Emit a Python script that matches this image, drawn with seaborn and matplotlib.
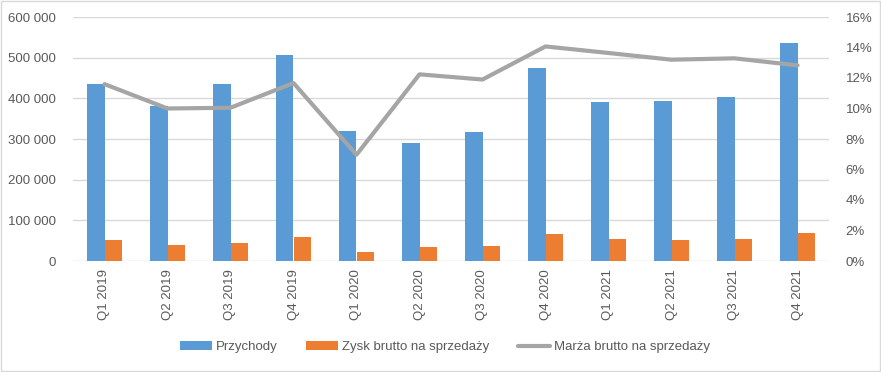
import numpy as np
import pandas as pd
import matplotlib
matplotlib.use("Agg")
import matplotlib.pyplot as plt
import seaborn as sns
from matplotlib.patches import Patch, Rectangle
from matplotlib.lines import Line2D
from matplotlib.ticker import FuncFormatter, MultipleLocator

categories = ["Q1 2019", "Q2 2019", "Q3 2019", "Q4 2019",
              "Q1 2020", "Q2 2020", "Q3 2020", "Q4 2020",
              "Q1 2021", "Q2 2021", "Q3 2021", "Q4 2021"]
przychody = [436000, 382000, 436000, 507000, 320000, 291000, 318000, 475000,
             392000, 394000, 404000, 537000]
zysk = [52000, 40000, 45000, 60000, 23000, 35000, 38000, 67000,
        55000, 52000, 55000, 70000]
marza = [0.116, 0.100, 0.1005, 0.1167, 0.0697, 0.1224, 0.119, 0.1407,
         0.1364, 0.132, 0.1329, 0.1283]
series_names = ["Przychody", "Zysk brutto na sprzedaży", "Marża brutto na sprzedaży"]

BLUE, ORANGE, GRAY = "#5B9BD5", "#ED7D31", "#A5A5A5"
TXT = "#595959"

sns.set_theme(style="white")
plt.rcParams["font.family"] = ["Liberation Sans", "DejaVu Sans"]

df = pd.DataFrame({
    "kw": categories * 2,
    "val": przychody + zysk,
    "seria": [series_names[0]] * len(categories) + [series_names[1]] * len(categories),
})

fig = plt.figure(figsize=(8.81, 3.72), dpi=100)
ax = fig.add_axes([73 / 881, 1 - 261 / 372, (829 - 73) / 881, (261 - 17) / 372])

sns.barplot(data=df, x="kw", y="val", hue="seria", order=categories,
            hue_order=series_names[:2], palette=[BLUE, ORANGE], width=0.57,
            gap=0, saturation=1, ax=ax, legend=False, edgecolor="none")
ax.set_xlim(-0.5, len(categories) - 0.5)
ax.set_ylim(0, 600000)
ax.yaxis.set_major_locator(MultipleLocator(100000))
ax.yaxis.set_major_formatter(FuncFormatter(lambda v, p: f"{int(v):,}".replace(",", " ")))
ax.grid(axis="y", color="#D9D9D9", linewidth=1)
ax.set_axisbelow(True)
for s in ax.spines.values():
    s.set_visible(False)
ax.set_xlabel("")
ax.set_ylabel("")
ax.tick_params(axis="y", length=0, labelsize=9.5, labelcolor=TXT, pad=12)
ax.tick_params(axis="x", length=0, labelsize=9.5, labelcolor=TXT, pad=6)
ax.set_xticks(range(len(categories)))
ax.set_xticklabels(categories, rotation=90)

ax2 = ax.twinx()
sns.lineplot(x=np.arange(len(categories)), y=marza, ax=ax2, color=GRAY,
             linewidth=3, legend=False)
ax2.set_ylim(0, 0.16)
ax2.yaxis.set_major_locator(MultipleLocator(0.02))
ax2.yaxis.set_major_formatter(FuncFormatter(lambda v, p: f"{v*100:.0f}%"))
for s in ax2.spines.values():
    s.set_visible(False)
ax2.tick_params(axis="y", length=0, labelsize=9.5, labelcolor=TXT, pad=12)
ax2.set_ylabel("")
ax2.set_xlim(-0.5, len(categories) - 0.5)

handles = [Patch(facecolor=BLUE, edgecolor="none"),
           Patch(facecolor=ORANGE, edgecolor="none"),
           Line2D([0], [0], color=GRAY, linewidth=3)]
leg = fig.legend(handles, series_names, loc="center", bbox_to_anchor=(0.505, 1 - 347 / 372),
                 ncol=3, frameon=False, fontsize=9.5, handlelength=2.4, handleheight=0.6,
                 columnspacing=2.2, handletextpad=0.3)
for t in leg.get_texts():
    t.set_color(TXT)

fig.patches.append(Rectangle((0.001, 0.003), 0.998, 0.994, transform=fig.transFigure,
                             fill=False, edgecolor="#D9D9D9", linewidth=1))

fig.savefig("out.png", dpi=100)
